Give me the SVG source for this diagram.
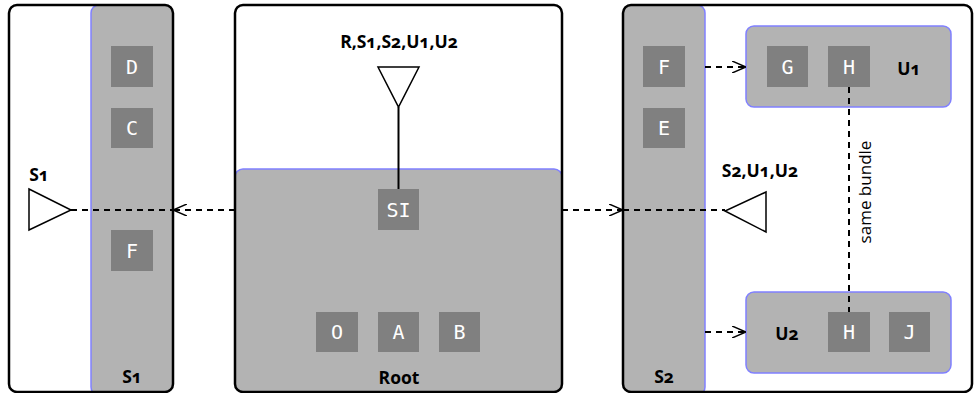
<svg xmlns="http://www.w3.org/2000/svg" width="974" height="393" viewBox="0 0 974 393">
<defs>
<marker id="open" viewBox="0 0 14 12" refX="14" refY="6" markerWidth="14" markerHeight="12" markerUnits="userSpaceOnUse" orient="auto">
<path d="M0,0 L14,6 L0,12" fill="none" stroke="#000" stroke-width="1.5"/>
</marker>
<clipPath id="cl"><rect x="9" y="5" width="164" height="387" rx="8"/></clipPath>
<clipPath id="cr"><rect x="235" y="5" width="327" height="387" rx="8"/></clipPath>
<clipPath id="cs"><rect x="623" y="5" width="349" height="387" rx="8"/></clipPath>
</defs>
<style>
.outer{fill:#fff;stroke:none}
.frame{fill:none;stroke:#000;stroke-width:2.5}
.panel{fill:#b3b3b3;stroke:#8080ff;stroke-width:1.5}
.box{fill:#808080}
.bt{font-family:"DejaVu Sans Mono",monospace;font-size:20px;fill:#fff;text-anchor:middle}
.lb{font-family:"Open Sans",sans-serif;font-weight:bold;font-size:17.5px;fill:#000;text-anchor:middle;font-variant-numeric:oldstyle-nums}
.dash{stroke:#000;stroke-width:2;stroke-dasharray:6,5;fill:none}
.tri{fill:#fff;stroke:#000;stroke-width:1.5}
</style>
<g id="S1">
<rect class="outer" x="9" y="5" width="164" height="387" rx="8"/>
<rect class="panel" x="91" y="5" width="84" height="390" rx="8" clip-path="url(#cl)"/>
<rect class="frame" x="9" y="5" width="164" height="387" rx="8"/>
<text class="lb" x="132" y="383">S1</text>
<g id="S1-D"><rect class="box" x="111" y="46" width="42" height="41"/><text class="bt" x="132" y="74">D</text></g>
<g id="S1-C"><rect class="box" x="111" y="108" width="42" height="40"/><text class="bt" x="132" y="135">C</text></g>
<g id="S1-F"><rect class="box" x="111" y="230" width="42" height="41"/><text class="bt" x="132" y="258">F</text></g>
<g id="S1-port"><text class="lb" x="39" y="181">S1</text><polygon class="tri" points="29,189 71,210 29,230"/></g>
</g>
<g id="Root">
<rect class="outer" x="235" y="5" width="327" height="387" rx="8"/>
<rect class="panel" x="235" y="169" width="327" height="226" rx="8" clip-path="url(#cr)"/>
<rect class="frame" x="235" y="5" width="327" height="387" rx="8"/>
<text class="lb" x="399" y="384">Root</text>
<g id="Root-port"><text class="lb" x="399" y="48">R,S1,S2,U1,U2</text><polygon class="tri" points="378,67 419,67 398.5,107"/></g>
<g id="Root-SI"><rect class="box" x="378" y="189" width="41" height="41"/><text class="bt" x="398.5" y="217">SI</text></g>
<g id="Root-O"><rect class="box" x="316" y="312" width="42" height="40"/><text class="bt" x="337" y="339">O</text></g>
<g id="Root-A"><rect class="box" x="378" y="312" width="41" height="40"/><text class="bt" x="398.5" y="339">A</text></g>
<g id="Root-B"><rect class="box" x="439" y="312" width="41" height="40"/><text class="bt" x="459.5" y="339">B</text></g>
</g>
<g id="S2">
<rect class="outer" x="623" y="5" width="349" height="387" rx="8"/>
<rect class="panel" x="620" y="5" width="85" height="390" rx="8" clip-path="url(#cs)"/>
<rect class="frame" x="623" y="5" width="349" height="387" rx="8"/>
<text class="lb" x="664" y="383">S2</text>
<g id="S2-F"><rect class="box" x="643" y="46" width="42" height="41"/><text class="bt" x="664" y="74">F</text></g>
<g id="S2-E"><rect class="box" x="643" y="108" width="42" height="40"/><text class="bt" x="664" y="135">E</text></g>
<g id="S2-port"><text class="lb" x="760" y="177">S2,U1,U2</text><polygon class="tri" points="766,192 725,211 766,232"/></g>
</g>
<g id="U1">
<rect class="panel" x="746" y="26" width="205" height="81" rx="8"/>
<text class="lb" x="909" y="75">U1</text>
<g id="U1-G"><rect class="box" x="767" y="46" width="41" height="41"/><text class="bt" x="787.5" y="74">G</text></g>
<g id="U1-H"><rect class="box" x="828" y="46" width="42" height="41"/><text class="bt" x="849" y="74">H</text></g>
</g>
<g id="U2">
<rect class="panel" x="746" y="292" width="205" height="81" rx="8"/>
<text class="lb" x="787" y="340">U2</text>
<g id="U2-H"><rect class="box" x="828" y="312" width="42" height="40"/><text class="bt" x="849" y="339">H</text></g>
<g id="U2-J"><rect class="box" x="889" y="312" width="41" height="40"/><text class="bt" x="909.5" y="339">J</text></g>
</g>
<g id="connectors">
<line x1="398.5" y1="107" x2="398.5" y2="189" stroke="#000" stroke-width="2"/>
<line class="dash" x1="71" y1="210" x2="173" y2="210"/>
<line class="dash" x1="235" y1="210" x2="173" y2="210" marker-end="url(#open)"/>
<line class="dash" x1="562" y1="210" x2="623" y2="210" marker-end="url(#open)"/>
<line class="dash" x1="623" y1="210" x2="725" y2="210"/>
<line class="dash" x1="705" y1="67" x2="746" y2="67" marker-end="url(#open)"/>
<line class="dash" x1="705" y1="332" x2="746" y2="332" marker-end="url(#open)"/>
<line class="dash" x1="849" y1="87" x2="849" y2="312"/>
<text x="871" y="192" transform="rotate(-90 871 192)" text-anchor="middle" font-family="Open Sans, sans-serif" font-size="17" fill="#000">same bundle</text>
</g>
</svg>
